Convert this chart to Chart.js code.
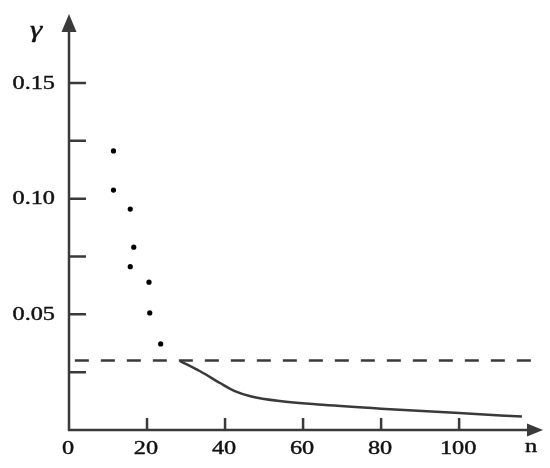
<!DOCTYPE html>
<html>
<head>
<meta charset="utf-8">
<script src="https://cdn.jsdelivr.net/npm/chart.js@4"></script>
<style>
  body { margin: 0; background: #fff; }
  canvas { display: block; }
</style>
</head>
<body>
<canvas id="gammaChart" width="550" height="468"></canvas>
<script>
// axis ticks
const xTicks = [0, 20, 40, 60, 80, 100];
const yTicks = [0.025, 0.05, 0.075, 0.10, 0.125, 0.15];
const yTickLabels = ["", "0.05", "", "0.10", "", "0.15"];

// scattered points
const dotX = [11.4, 11.4, 15.7, 16.6, 15.7, 20.5, 20.7, 23.5];
const dotY = [0.1206, 0.1037, 0.0955, 0.0790, 0.0706, 0.0639, 0.0506, 0.0372];

// solid curve
const curveX = [28.5, 33.6, 38.7, 42.5, 46.5, 54, 65, 80, 100, 116.1];
const curveY = [0.0298, 0.0254, 0.0203, 0.0168, 0.0146, 0.0125, 0.0109, 0.0092, 0.0073, 0.0058];

// dashed threshold
const limitX = [1.5, 118.6];
const limitY = [0.03, 0.03];

const axisColor = "#3a3a3a";
const toPoints = (xs, ys) => xs.map((x, i) => ({ x, y: ys[i] }));

const wideText = (ctx, txt, x, y, align) => {
  ctx.save();
  ctx.translate(x, y);
  ctx.scale(1.35, 1);
  ctx.textAlign = align;
  ctx.fillText(txt, 0, 0);
  ctx.strokeText(txt, 0, 0);
  ctx.restore();
};

const axesPlugin = {
  id: "axes",
  afterDraw(chart) {
    const { ctx, scales: { x, y } } = chart;
    const x0 = x.getPixelForValue(0);
    const y0 = y.getPixelForValue(0);
    const top = chart.chartArea.top;
    const right = chart.chartArea.right;
    ctx.save();
    ctx.strokeStyle = axisColor;
    ctx.fillStyle = axisColor;
    ctx.lineWidth = 2.5;

    // axis lines
    ctx.beginPath();
    ctx.moveTo(x0, y0 + 1);
    ctx.lineTo(x0, top + 16);
    ctx.moveTo(x0 - 1, y0);
    ctx.lineTo(right - 14, y0);
    ctx.stroke();

    // arrow heads
    ctx.beginPath();
    ctx.moveTo(x0, top);
    ctx.lineTo(x0 - 7.5, top + 18);
    ctx.lineTo(x0 + 7.5, top + 18);
    ctx.closePath();
    ctx.fill();
    ctx.beginPath();
    ctx.moveTo(right, y0);
    ctx.lineTo(right - 16, y0 - 6.5);
    ctx.lineTo(right - 16, y0 + 6.5);
    ctx.closePath();
    ctx.fill();

    // tick marks
    ctx.beginPath();
    yTicks.forEach(v => {
      const py = y.getPixelForValue(v);
      ctx.moveTo(x0, py);
      ctx.lineTo(x0 + 17, py);
    });
    xTicks.forEach(v => {
      if (v === 0) return;
      const px = x.getPixelForValue(v);
      ctx.moveTo(px, y0);
      ctx.lineTo(px, y0 - 12);
    });
    ctx.stroke();

    // labels
    ctx.fillStyle = "#111";
    ctx.strokeStyle = "#111";
    ctx.lineWidth = 0.4;
    ctx.font = "18px 'Liberation Serif', 'DejaVu Serif', serif";
    ctx.textBaseline = "middle";
    yTicks.forEach((v, i) => {
      if (yTickLabels[i]) wideText(ctx, yTickLabels[i], x0 - 14, y.getPixelForValue(v) + 1, "right");
    });
    xTicks.forEach(v => {
      wideText(ctx, String(v), x.getPixelForValue(v) - 1, y0 + 19, "center");
    });
    wideText(ctx, "n", right - 12, y0 + 17, "center");
    ctx.font = "italic 23px 'Liberation Serif', 'DejaVu Serif', serif";
    wideText(ctx, "γ", x0 - 33, top + 17, "center");
    ctx.restore();
  }
};

new Chart(document.getElementById("gammaChart"), {
  type: "scatter",
  data: {
    datasets: [
      {
        data: toPoints(dotX, dotY),
        pointRadius: 2.6,
        pointBackgroundColor: "#000",
        pointBorderWidth: 0,
      },
      {
        data: toPoints(curveX, curveY),
        showLine: true,
        pointRadius: 0,
        borderColor: axisColor,
        borderWidth: 2.5,
        cubicInterpolationMode: "monotone",
      },
      {
        data: toPoints(limitX, limitY),
        showLine: true,
        pointRadius: 0,
        borderColor: axisColor,
        borderWidth: 2.5,
        borderDash: [14, 12],
      },
    ],
  },
  options: {
    responsive: false,
    animation: false,
    layout: { padding: { left: 69, right: 7, top: 14, bottom: 38 } },
    plugins: {
      legend: { display: false },
      tooltip: { enabled: false },
    },
    scales: {
      x: { type: "linear", display: false, min: 0, max: 121.5 },
      y: { type: "linear", display: false, min: 0, max: 0.1798 },
    },
  },
  plugins: [axesPlugin],
});
</script>
</body>
</html>
